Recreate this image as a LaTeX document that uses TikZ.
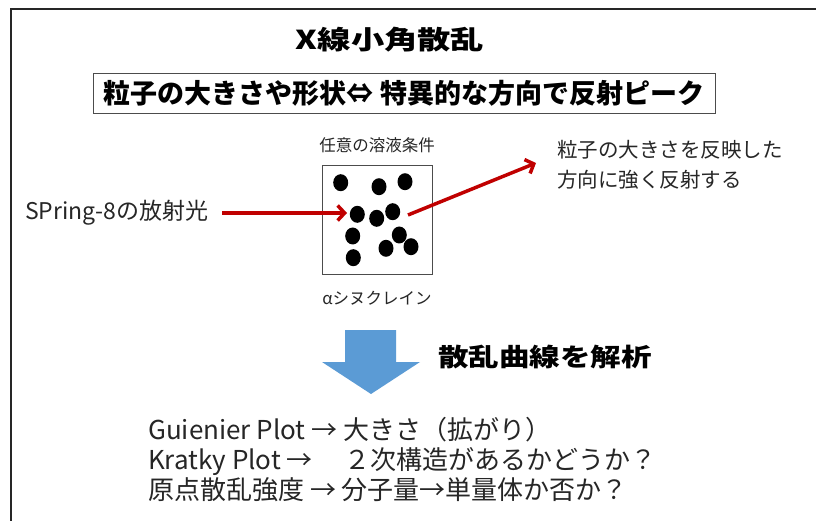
\documentclass[tikz,border=0pt]{standalone}
\usepackage{fontspec}
\setmainfont{Noto Sans CJK JP}
\usetikzlibrary{arrows.meta}
\definecolor{beamred}{HTML}{C00000}
\definecolor{arrowblue}{HTML}{5B9BD5}
\definecolor{txtgray}{HTML}{262626}
\tikzset{
  frameline/.style={line width=2pt, draw=black!85},
  beam/.style={line width=3.5pt, draw=beamred, -{Straight Barb[length=7pt,width=15pt,line width=3.5pt]}},
  particle/.style={fill=black, draw=none},
  bodytext/.style={text=txtgray, inner sep=0pt, anchor=west},
}
\begin{document}
\begin{tikzpicture}[x=1pt,y=-1pt]
\useasboundingbox (0,0) rectangle (816,521);
\fill[white] (0,0) rectangle (816,521);
% outer frame
\draw[frameline] (11,530) -- (11,9) -- (830,9);
% title
\node[inner sep=0pt] (title) at (390,40) {\scalebox{1.28}[1]{\fontsize{26}{30}\selectfont\bfseries X線小角散乱}};
% boxed statement
\node[draw=black!70, line width=0.8pt, minimum width=622pt, minimum height=40pt, inner sep=0pt,
  font=\fontsize{27}{30}\selectfont\bfseries] (stmt) at (404,93)
  {粒子の大きさや形状⇔ 特異的な方向で反射ピーク};
% sample cell
\node[draw=black!70, line width=0.8pt, minimum width=110pt, minimum height=109pt, inner sep=0pt] (cell) at (377.5,219.5) {};
\node[text=txtgray, inner sep=0pt, font=\fontsize{16.5}{18}\selectfont] (cond) at (377,145) {任意の溶液条件};
\node[text=txtgray, inner sep=0pt, font=\fontsize{16.5}{18}\selectfont] (prot) at (377,298) {αシヌクレイン};
% particles
\foreach \px/\py [count=\i] in {340.7/182.7, 379/186.7, 405/181.7, 357.3/214.3, 376.7/218.3, 392.7/211.7, 352.7/236, 399.3/235, 386/248.3, 411/246.7, 353.3/257.7}
  \fill[particle] (\px,\py) ellipse [x radius=7.5pt, y radius=8.5pt];
% incoming beam
\node[bodytext, font=\fontsize{23}{26}\selectfont] (src) at (25,213) {SPring-8の放射光};
\coordinate (inA) at (222,213);
\coordinate (inB) at (347,213);
\draw[beam] (inA) -- (inB);
% scattered beam
\coordinate (outA) at (408,215);
\coordinate (outB) at (536,163);
\draw[beam] (outA) -- (outB);
\node[bodytext, align=left, anchor=west, font=\fontsize{20.5}{30}\selectfont] (refl) at (557,165)
  {粒子の大きさを反映した\\方向に強く反射する};
% analysis arrow
\path[fill=arrowblue] (345,330) -- (396,330) -- (396,362) -- (420,362) -- (371,394) -- (322,362) -- (345,362) -- cycle;
\node[inner sep=0pt, anchor=west] (anal) at (438,357) {\scalebox{1.22}[1]{\fontsize{25}{30}\selectfont\bfseries 散乱曲線を解析}};
% results
\node[bodytext, align=left, anchor=west, font=\fontsize{26}{30}\selectfont] (res) at (148,460)
  {Guienier Plot → 大きさ（拡がり）\\Kratky Plot → 　２次構造があるかどうか？\\原点散乱強度 → 分子量→単量体か否か？};
\end{tikzpicture}
\end{document}
